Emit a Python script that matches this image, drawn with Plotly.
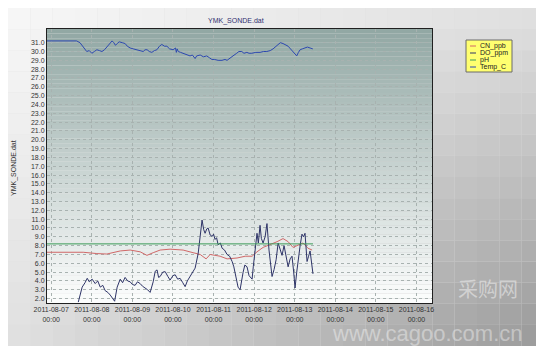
import pandas as pd
import plotly.graph_objects as go

START = "2011-08-07 00:00"

# ---- data (hours since START, values) ----
temp_hours = [-2.5, 5, 15, 17, 19, 21, 22.5, 24, 25.5, 27, 28.5, 30, 31.5, 33, 34.5, 36, 37, 38, 39, 40.2,
              42, 43.7, 45, 46.7, 48.5, 50.6, 52.5, 54.4, 55.5, 56.7, 58, 59.5, 61, 62.5, 64, 65.4, 67, 68.4,
              70, 72.1, 73.5, 74, 74.5, 75.1, 76.5, 78, 80, 82.1, 83.5, 85.1, 86, 88.1, 90, 92, 93.5, 95,
              96.5, 98.7, 101, 102.8, 104, 105.8, 107.5, 109.7, 111, 112.7, 114, 115.7, 117, 118.6, 121,
              123.5, 125.5, 127.5, 129.5, 131.2, 132.5, 134.2, 135.5, 137.1, 138.5, 140.1, 141.5, 143, 144,
              145.2, 146.2, 147.2, 148.5, 150.1, 151.5, 153.1, 154.7]
temp_c = [31.2, 31.2, 31.2, 31.0, 30.5, 30.0, 30.1, 29.8, 30.0, 30.2, 30.1, 30.0, 30.2, 30.5, 30.9, 31.2, 31.0,
          30.7, 30.9, 31.1, 31.0, 30.9, 30.6, 30.4, 30.3, 30.2, 30.1, 30.0, 30.2, 30.2, 30.0, 29.9, 30.1, 30.2,
          30.6, 30.8, 30.6, 30.6, 30.3, 30.2, 30.4, 29.9, 30.3, 30.0, 29.9, 29.8, 29.7, 29.5, 29.6, 29.2, 29.5,
          29.6, 29.4, 29.5, 29.3, 29.1, 29.1, 29.0, 29.0, 29.1, 29.0, 29.3, 29.5, 29.8, 30.0, 30.0, 29.8, 29.9,
          29.8, 29.8, 29.9, 29.9, 30.0, 30.0, 30.1, 30.3, 30.5, 30.7, 31.0, 30.9, 30.8, 30.6, 30.3, 30.0, 29.7,
          29.5, 29.9, 30.2, 30.3, 30.4, 30.5, 30.4, 30.3]

ph_hours = [-2.5, 40, 80, 120, 154.8]
ph = [8.2, 8.2, 8.2, 8.2, 8.2]

cn_hours = [-2.5, 5.3, 18.9, 27.0, 32.9, 40.8, 46.7, 52.6, 56.6, 60.3, 64.4, 70.3, 78.0, 83.9, 88.1, 91.6, 94.0,
            99.9, 104.0, 109.9, 114.7, 118.8, 121.7, 125.3, 129.4, 133.6, 137.1, 140.1, 143.0, 146.0, 148.9,
            151.9, 154.3]
cn_ppb = [7.25, 7.25, 7.25, 7.1, 7.05, 7.4, 7.5, 7.3, 6.9, 7.2, 7.5, 7.6, 7.5, 7.2, 7.0, 6.5, 7.0, 6.8, 6.5,
          6.6, 6.8, 6.8, 7.3, 7.8, 8.1, 8.45, 8.8, 8.45, 7.8, 8.1, 8.3, 7.7, 7.5]

do_hours = [16.0, 18.3, 20, 21.3, 22.5, 24.2, 26.0, 27.5, 29.0, 30.5, 31.9, 33.5, 34.9, 36.6, 37.5, 39.0, 40.8,
            42.2, 43.7, 45.2, 46.7, 48, 49.6, 51, 52.6, 54, 55.6, 57, 58.5, 60.3, 61.5, 62.6, 63.5, 64.4, 66,
            67.4, 69, 70.3, 72, 73.3, 74.8, 76.2, 77.8, 79.2, 80.5, 82.1, 83.5, 85.1, 86.9, 89.2, 90.2, 91.0,
            92.0, 92.8, 94.0, 95.2, 96.0, 96.9, 97.8, 98.7, 100, 101.1, 102.5, 104.0, 105.5, 107.0, 108.0,
            108.7, 109.6, 110.5, 111.7, 112.5, 113.5, 114.5, 115.8, 117.0, 117.6, 118.8, 119.5, 120.6, 121.7,
            122.5, 123.5, 124.3, 125.3, 126.5, 127.6, 128.8, 129.6, 130.6, 131.8, 133.0, 134.2, 135.5, 136.5,
            137.7, 139.0, 140.1, 141.3, 142.4, 143.4, 144.2, 145.2, 146.0, 147.2, 148.3, 149.2, 150.1, 151.3,
            152.2, 153.1, 154.8]
do_ppm = [1.6, 3.3, 3.8, 4.3, 3.9, 4.2, 3.7, 4.0, 3.3, 3.5, 2.9, 2.7, 2.4, 2.0, 1.7, 3.3, 4.2, 3.8, 4.4, 4.0,
          3.9, 3.6, 3.5, 3.9, 3.7, 3.4, 3.2, 3.0, 2.7, 3.9, 5.1, 5.25, 4.4, 4.5, 5.0, 5.05, 4.5, 4.1, 4.6, 4.7,
          4.2, 4.3, 3.8, 3.35, 4.0, 4.5, 5.0, 5.45, 7.1, 10.9, 9.8, 9.4, 9.9, 10.0, 9.2, 9.05, 9.3, 8.7, 8.9,
          8.1, 8.3, 7.7, 7.5, 7.0, 6.8, 6.2, 5.6, 4.9, 4.2, 3.3, 3.0, 4.0, 5.0, 5.8, 5.6, 4.6, 4.5, 4.2, 5.6,
          7.9, 9.4, 8.3, 10.3, 8.8, 8.3, 9.0, 10.5, 7.5, 6.0, 4.5, 5.3, 6.4, 8.3, 7.6, 6.9, 8.0, 6.8, 5.6, 6.5,
          6.8, 5.0, 3.2, 5.0, 6.4, 8.0, 9.3, 9.0, 9.4, 6.2, 6.8, 7.4, 4.8]

series_names = ["CN_ppb", "DO_ppm", "pH", "Temp_C"]
series_colors = ["#d06868", "#2e3468", "#3c9c58", "#2c48b0"]

tick_days = ["2011-08-07", "2011-08-08", "2011-08-09", "2011-08-10", "2011-08-11",
             "2011-08-12", "2011-08-13", "2011-08-14", "2011-08-15", "2011-08-16"]
tick_text = [d + "<br>00:00" for d in tick_days]
y_ticks = [float(v) for v in range(2, 32)]

t0 = pd.Timestamp(START)
def to_time(hours):
    return [t0 + pd.Timedelta(hours=h) for h in hours]

fig = go.Figure()
data = {"CN_ppb": (cn_hours, cn_ppb), "DO_ppm": (do_hours, do_ppm),
        "pH": (ph_hours, ph), "Temp_C": (temp_hours, temp_c)}
for name, color in zip(series_names, series_colors):
    hrs, vals = data[name]
    fig.add_trace(go.Scatter(x=to_time(hrs), y=vals, mode="lines", name=name,
                             line=dict(color=color, width=1), showlegend=False))

# the page body has an 8px default margin: the figure is drawn offset by (8, 8)
OFF = 8
PAGE_W, PAGE_H = 544, 346
W, H = PAGE_W - OFF, PAGE_H - OFF
# plot box in page pixels: x 47..432, y 29..303
ML, MR, MT, MB = 47 - OFF, PAGE_W - 432, 29 - OFF, PAGE_H - 303
PW, PH = W - ML - MR, H - MT - MB

def px_to_paper_x(px):  # page pixel -> paper
    return (px - OFF - ML) / PW
def px_to_paper_y(py):
    return (H - MB - (py - OFF)) / PH

shapes = []
# page background gradient (grid of cells)
NX, NY = 24, 16
for i in range(NX):
    for j in range(NY):
        u = (i + 0.5) / NX
        v = (j + 0.5) / NY
        c = 247 - 22 * u - 22 * v - 50 * u * v
        c = int(round(c))
        shapes.append(dict(type="rect", xref="paper", yref="paper", layer="below",
                           x0=px_to_paper_x(OFF + i * W / NX), x1=px_to_paper_x(OFF + (i + 1) * W / NX),
                           y0=px_to_paper_y(OFF + j * H / NY), y1=px_to_paper_y(OFF + (j + 1) * H / NY),
                           fillcolor=f"rgb({c},{c},{c})", line=dict(width=0)))
# plot area gradient
top = (146, 168, 164)
bot = (252, 253, 253)
N = 60
for k in range(N):
    f = k / (N - 1)
    col = tuple(int(round(top[m] + (bot[m] - top[m]) * f)) for m in range(3))
    shapes.append(dict(type="rect", xref="paper", yref="paper", layer="below",
                       x0=0, x1=1, y0=1 - (k + 1) / N, y1=1 - k / N,
                       fillcolor=f"rgb{col}", line=dict(width=0)))
# custom legend box
lx0, lx1, ly0, ly1 = 466, 512, 40, 72
shapes.append(dict(type="rect", xref="paper", yref="paper",
                   x0=px_to_paper_x(lx0), x1=px_to_paper_x(lx1),
                   y0=px_to_paper_y(ly1), y1=px_to_paper_y(ly0),
                   fillcolor="#ffff70", line=dict(color="#6a6a6a", width=1)))
annotations = []
for idx, (name, color) in enumerate(zip(series_names, series_colors)):
    yy = 46 + idx * 7
    shapes.append(dict(type="line", xref="paper", yref="paper",
                       x0=px_to_paper_x(470), x1=px_to_paper_x(476),
                       y0=px_to_paper_y(yy), y1=px_to_paper_y(yy),
                       line=dict(color=color, width=1)))
    annotations.append(dict(text=name, xref="paper", yref="paper", x=px_to_paper_x(478),
                            y=px_to_paper_y(yy), xanchor="left", yanchor="middle", showarrow=False,
                            font=dict(size=7, color="#222222", family="Liberation Sans")))

annotations.append(dict(text="YMK_SONDE.dat", xref="paper", yref="paper", x=px_to_paper_x(236),
                        y=px_to_paper_y(21), xanchor="center", yanchor="middle", showarrow=False,
                        font=dict(size=7, color="#303070", family="Liberation Sans")))
annotations.append(dict(text="YMK_SONDE.dat", xref="paper", yref="paper", x=px_to_paper_x(14),
                        y=px_to_paper_y(168), xanchor="center", yanchor="middle", showarrow=False,
                        textangle=-90, font=dict(size=7, color="#333333", family="Liberation Sans")))
# faint watermark
annotations.append(dict(text="采购网", xref="paper", yref="paper", x=px_to_paper_x(520),
                        y=px_to_paper_y(288), xanchor="right", yanchor="middle", showarrow=False,
                        font=dict(size=20, color="rgba(255,255,255,0.45)", family="Noto Sans CJK SC")))
annotations.append(dict(text="www.cagoo.com.cn", xref="paper", yref="paper", x=px_to_paper_x(525),
                        y=px_to_paper_y(333), xanchor="right", yanchor="middle", showarrow=False,
                        font=dict(size=22, color="rgba(255,255,255,0.4)", family="Liberation Sans")))

x_start = t0 + pd.Timedelta(hours=-2.5)
x_end = t0 + pd.Timedelta(hours=225.2)

fig.update_layout(
    width=W, height=H,
    margin=dict(l=ML, r=MR, t=MT, b=MB),
    paper_bgcolor="#e0e0e0",
    plot_bgcolor="rgba(0,0,0,0)",
    shapes=shapes,
    annotations=annotations,
    showlegend=False,
    font=dict(family="Liberation Sans", size=7, color="#333333"),
    xaxis=dict(range=[x_start, x_end], tickvals=[pd.Timestamp(d) for d in tick_days],
               ticktext=tick_text, showgrid=True, gridcolor="#a8b2b0", griddash="dot", gridwidth=1,
               showline=True, linecolor="#202020", linewidth=1, mirror=True, ticks="",
               tickfont=dict(size=7, color="#333333"), zeroline=False),
    yaxis=dict(range=[1.5, 32.55], tickvals=y_ticks, tickformat=".1f", showgrid=True,
               gridcolor="#a8b2b0", griddash="dot", gridwidth=1, showline=True, linecolor="#202020",
               linewidth=1, mirror=True, ticks="", tickfont=dict(size=7, color="#333333"),
               zeroline=False),
)

fig.write_html("out.html")
